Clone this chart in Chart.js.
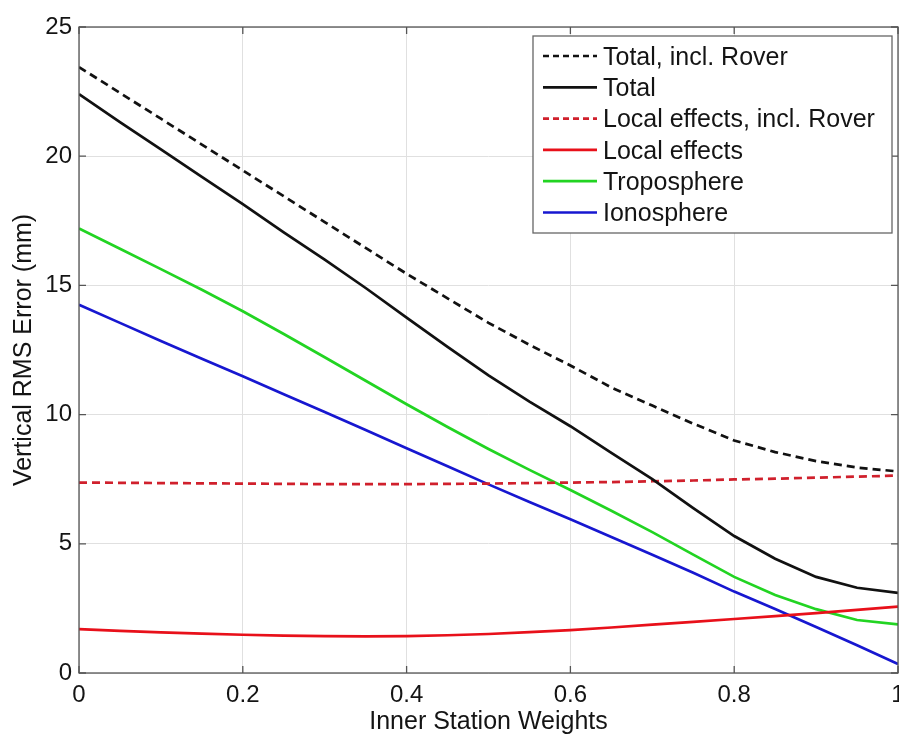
<!DOCTYPE html>
<html>
<head>
<meta charset="utf-8">
<script src="https://cdn.jsdelivr.net/npm/chart.js@4.4.0/dist/chart.umd.min.js"></script>
<style>
    html, body { margin: 0; padding: 0; background: #ffffff; }
    #wrap { width: 899px; height: 736px; }
</style>
</head>
<body>
<div id="wrap"><canvas id="rmsChart" width="899" height="736"></canvas></div>
<script>
// Inner station weight (x) and vertical RMS error curves (mm)
const weights = [0, 0.05, 0.1, 0.15, 0.2, 0.25, 0.3, 0.35, 0.4, 0.45, 0.5,
    0.55, 0.6, 0.65, 0.7, 0.75, 0.8, 0.85, 0.9, 0.95, 1.0];

const totalInclRover = [23.45, 22.45, 21.45, 20.45, 19.45, 18.45, 17.45, 16.45, 15.45, 14.5, 13.55,
    12.7, 11.9, 11.05, 10.35, 9.65, 9.0, 8.55, 8.2, 7.95, 7.8];
const total = [22.4, 21.32, 20.26, 19.2, 18.15, 17.05, 16.0, 14.9, 13.75, 12.62, 11.52,
    10.5, 9.55, 8.52, 7.5, 6.38, 5.3, 4.42, 3.72, 3.3, 3.1];
const localInclRover = [7.37, 7.36, 7.35, 7.34, 7.33, 7.32, 7.31, 7.31, 7.31, 7.32, 7.33,
    7.35, 7.37, 7.39, 7.42, 7.45, 7.49, 7.52, 7.56, 7.6, 7.64];
const localEffects = [1.7, 1.63, 1.57, 1.52, 1.48, 1.45, 1.43, 1.42, 1.43, 1.46, 1.51,
    1.58, 1.66, 1.76, 1.87, 1.98, 2.09, 2.2, 2.32, 2.44, 2.57];
const troposphere = [17.2, 16.42, 15.63, 14.83, 14.0, 13.12, 12.22, 11.31, 10.4, 9.52, 8.67,
    7.86, 7.08, 6.28, 5.45, 4.58, 3.72, 3.02, 2.47, 2.05, 1.88];
const ionosphere = [14.25, 13.55, 12.85, 12.16, 11.48, 10.79, 10.1, 9.4, 8.7, 8.0, 7.3,
    6.62, 5.95, 5.26, 4.58, 3.88, 3.15, 2.48, 1.78, 1.07, 0.35];

const labels = ['Total, incl. Rover', 'Total', 'Local effects, incl. Rover',
    'Local effects', 'Troposphere', 'Ionosphere'];
const xTicks = [0, 0.2, 0.4, 0.6, 0.8, 1];
const yTicks = [0, 5, 10, 15, 20, 25];

const FONT = 'Arial, "Liberation Sans", sans-serif';
const TEXT = '#141414';

function toPoints(values) {
    return values.map((v, i) => ({ x: weights[i], y: v }));
}

function makeSet(label, values, color, dash) {
    return {
        label: label,
        data: toPoints(values),
        borderColor: color,
        backgroundColor: color,
        borderWidth: 2.7,
        borderDash: dash || [],
        pointRadius: 0,
        tension: 0,
        fill: false
    };
}

// MATLAB style box, inward ticks and legend
const matlabAxes = {
    id: 'matlabAxes',
    afterDatasetsDraw(chart) {
        const { ctx, chartArea: a, scales } = chart;
        ctx.save();
        ctx.strokeStyle = '#555555';
        ctx.lineWidth = 1.3;
        ctx.strokeRect(a.left, a.top, a.right - a.left, a.bottom - a.top);

        // inward tick marks
        ctx.beginPath();
        xTicks.forEach(t => {
            const px = scales.x.getPixelForValue(t);
            ctx.moveTo(px, a.bottom); ctx.lineTo(px, a.bottom - 7);
            ctx.moveTo(px, a.top); ctx.lineTo(px, a.top + 7);
        });
        yTicks.forEach(t => {
            const py = scales.y.getPixelForValue(t);
            ctx.moveTo(a.left, py); ctx.lineTo(a.left + 7, py);
            ctx.moveTo(a.right, py); ctx.lineTo(a.right - 7, py);
        });
        ctx.stroke();

        // legend box
        const bx = a.right - 365, by = a.top + 9, bw = 359, bh = 197;
        ctx.fillStyle = '#ffffff';
        ctx.fillRect(bx, by, bw, bh);
        ctx.strokeStyle = '#666666';
        ctx.lineWidth = 1.3;
        ctx.strokeRect(bx, by, bw, bh);

        ctx.font = '25px ' + FONT;
        ctx.textBaseline = 'middle';
        ctx.textAlign = 'left';
        chart.data.datasets.forEach((ds, i) => {
            const rowY = by + 20 + i * 31.3;
            ctx.beginPath();
            ctx.strokeStyle = ds.borderColor;
            ctx.lineWidth = 2.7;
            ctx.setLineDash(ds.borderDash.length ? [6, 4] : []);
            ctx.moveTo(bx + 10, rowY);
            ctx.lineTo(bx + 64, rowY);
            ctx.stroke();
            ctx.setLineDash([]);
            ctx.fillStyle = TEXT;
            ctx.fillText(ds.label, bx + 70, rowY + 2);
        });
        ctx.restore();
    }
};

const ctx = document.getElementById('rmsChart');
new Chart(ctx, {
    type: 'line',
    data: {
        datasets: [
            makeSet(labels[0], totalInclRover, '#111111', [8, 5]),
            makeSet(labels[1], total, '#111111'),
            makeSet(labels[2], localInclRover, '#d0202c', [8, 5]),
            makeSet(labels[3], localEffects, '#e8101a'),
            makeSet(labels[4], troposphere, '#22d422'),
            makeSet(labels[5], ionosphere, '#1717d0')
        ]
    },
    options: {
        responsive: false,
        animation: false,
        layout: {
            padding: { top: 27, right: 1, left: 0, bottom: 0 }
        },
        plugins: {
            legend: { display: false },
            tooltip: { enabled: false }
        },
        scales: {
            x: {
                type: 'linear',
                min: 0,
                max: 1,
                afterFit: (scale) => {
                    scale.height = 63;
                    scale.paddingLeft = 0;
                    scale.paddingRight = 0;
                },
                afterBuildTicks: (scale) => { scale.ticks = xTicks.map(v => ({ value: v })); },
                ticks: {
                    padding: 8,
                    color: TEXT,
                    font: { size: 24, family: FONT },
                    callback: (v) => String(v)
                },
                grid: { color: '#e0e0e0', lineWidth: 1, drawTicks: false },
                border: { display: false },
                title: {
                    display: true,
                    text: 'Inner Station Weights',
                    color: TEXT,
                    font: { size: 25, family: FONT },
                    padding: { top: 0, bottom: -1 }
                }
            },
            y: {
                type: 'linear',
                min: 0,
                max: 25,
                afterFit: (scale) => {
                    scale.width = 79;
                    scale.paddingTop = 0;
                    scale.paddingBottom = 0;
                },
                afterBuildTicks: (scale) => { scale.ticks = yTicks.map(v => ({ value: v })); },
                ticks: {
                    padding: 7,
                    color: TEXT,
                    font: { size: 24, family: FONT }
                },
                grid: { color: '#e0e0e0', lineWidth: 1, drawTicks: false },
                border: { display: false },
                title: {
                    display: true,
                    text: 'Vertical RMS Error (mm)',
                    color: TEXT,
                    font: { size: 25, family: FONT },
                    padding: { top: 9, bottom: 0 }
                }
            }
        }
    },
    plugins: [matlabAxes]
});
</script>
</body>
</html>
